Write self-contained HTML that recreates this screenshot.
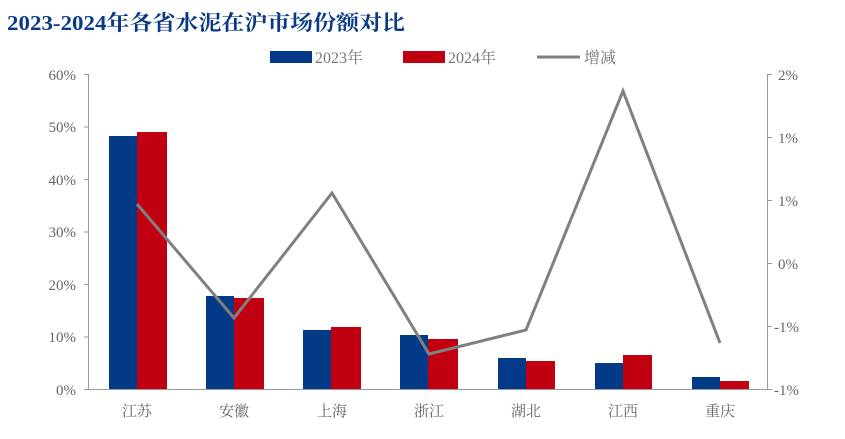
<!DOCTYPE html><html><head><meta charset="utf-8"><style>
body{margin:0;background:#fff;}
svg text{font-family:"Liberation Serif","Noto Serif CJK SC",serif;}
</style></head><body>
<svg width="845" height="434" xmlns="http://www.w3.org/2000/svg">
<text x="7" y="30" font-size="21" font-weight="bold" fill="#0a3a86" textLength="398" lengthAdjust="spacingAndGlyphs" style="font-family:'Liberation Serif','Noto Serif CJK SC',serif">2023-2024年各省水泥在沪市场份额对比</text>
<rect x="270" y="51" width="42" height="12" fill="#033a88"/><text x="315" y="63" font-size="16" fill="#777">2023年</text>
<rect x="403" y="51" width="42" height="12" fill="#c00010"/><text x="448" y="63" font-size="16" fill="#777">2024年</text>
<line x1="537" y1="57" x2="580" y2="57" stroke="#7f7f7f" stroke-width="3"/><text x="584" y="63" font-size="16" fill="#777">增减</text>
<g stroke="#999" stroke-width="1" fill="none">
<line x1="88.5" y1="74" x2="88.5" y2="389"/><line x1="767.5" y1="74" x2="767.5" y2="389"/><line x1="88" y1="389.5" x2="768" y2="389.5"/>
<path d="M84 74.5H88M84 127H88M84 179.5H88M84 232H88M84 284.5H88M84 337H88M84 389.5H88"/>
<path d="M768 74.5H772M768 137.5H772M768 200.5H772M768 263.5H772M768 326.5H772M768 389.5H772"/>
</g>
<g font-size="15" fill="#666" text-anchor="end">
<text x="76" y="80">60%</text><text x="76" y="132">50%</text><text x="76" y="185">40%</text><text x="76" y="237">30%</text><text x="76" y="290">20%</text><text x="76" y="342">10%</text><text x="76" y="395">0%</text>
</g>
<g font-size="15" fill="#666">
<text x="778" y="80">2%</text><text x="778" y="143">1%</text><text x="778" y="206">1%</text><text x="778" y="269">0%</text><text x="774" y="332">-1%</text><text x="774" y="395">-1%</text>
</g>
<g fill="#033a88">
<rect x="109" y="136" width="28" height="253"/><rect x="206" y="296" width="28" height="93"/><rect x="303" y="330" width="28" height="59"/><rect x="400" y="335" width="28" height="54"/><rect x="498" y="358" width="28" height="31"/><rect x="595" y="363" width="28" height="26"/><rect x="692" y="377" width="28" height="12"/>
</g>
<g fill="#c00010">
<rect x="137" y="132" width="30" height="257"/><rect x="234" y="298" width="30" height="91"/><rect x="331" y="327" width="30" height="62"/><rect x="428" y="339" width="30" height="50"/><rect x="526" y="361" width="29" height="28"/><rect x="623" y="355" width="29" height="34"/><rect x="720" y="381" width="29" height="8"/>
</g>
<polyline points="137,204 234,318 332,193 429,354 526,330 623,91 720,343" fill="none" stroke="#808080" stroke-width="3"/>
<g font-size="15" fill="#666" text-anchor="middle" style="font-family:'Noto Serif CJK SC',serif">
<text x="137" y="416">江苏</text><text x="234" y="416">安徽</text><text x="332" y="416">上海</text><text x="429" y="416">浙江</text><text x="526" y="416">湖北</text><text x="623" y="416">江西</text><text x="720" y="416">重庆</text>
</g>
</svg>
</body></html>
